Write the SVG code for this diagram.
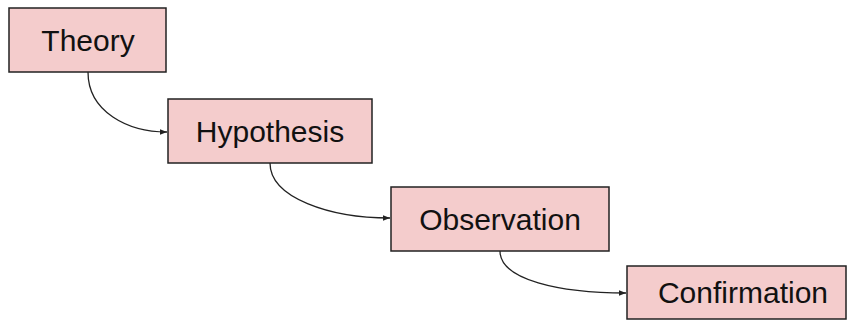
<svg xmlns="http://www.w3.org/2000/svg" width="849" height="320" viewBox="0 0 849 320">
<defs>
<style>
.box{fill:#f4cccc;stroke:#222;stroke-width:1.5}
.lbl{font-family:"Liberation Sans",Arial,sans-serif;font-size:30px;fill:#111;text-anchor:middle}
.conn{fill:none;stroke:#222;stroke-width:1.3}
</style>
<marker id="ah" viewBox="0 0 10 10" refX="10" refY="5" markerWidth="7" markerHeight="7" markerUnits="userSpaceOnUse" orient="auto">
<path d="M0,1 L10,5 L0,9 Z" fill="#222"/>
</marker>
</defs>
<g id="connectors">
<path class="conn" d="M88,72 C88,112 128,132 167,132" marker-end="url(#ah)"/>
<path class="conn" d="M270,163 C270,198 330,218 390,218" marker-end="url(#ah)"/>
<path class="conn" d="M500,251 C500,280 560,293 626,293" marker-end="url(#ah)"/>
</g>
<g id="theory">
<rect class="box" x="9" y="8" width="157" height="64"/>
<text class="lbl" x="88" y="51">Theory</text>
</g>
<g id="hypothesis">
<rect class="box" x="168" y="99" width="204" height="64"/>
<text class="lbl" x="270" y="142">Hypothesis</text>
</g>
<g id="observation">
<rect class="box" x="391" y="187" width="218" height="64"/>
<text class="lbl" x="500" y="230">Observation</text>
</g>
<g id="confirmation">
<rect class="box" x="627" y="266" width="219" height="53"/>
<text class="lbl" x="743" y="303">Confirmation</text>
</g>
</svg>
